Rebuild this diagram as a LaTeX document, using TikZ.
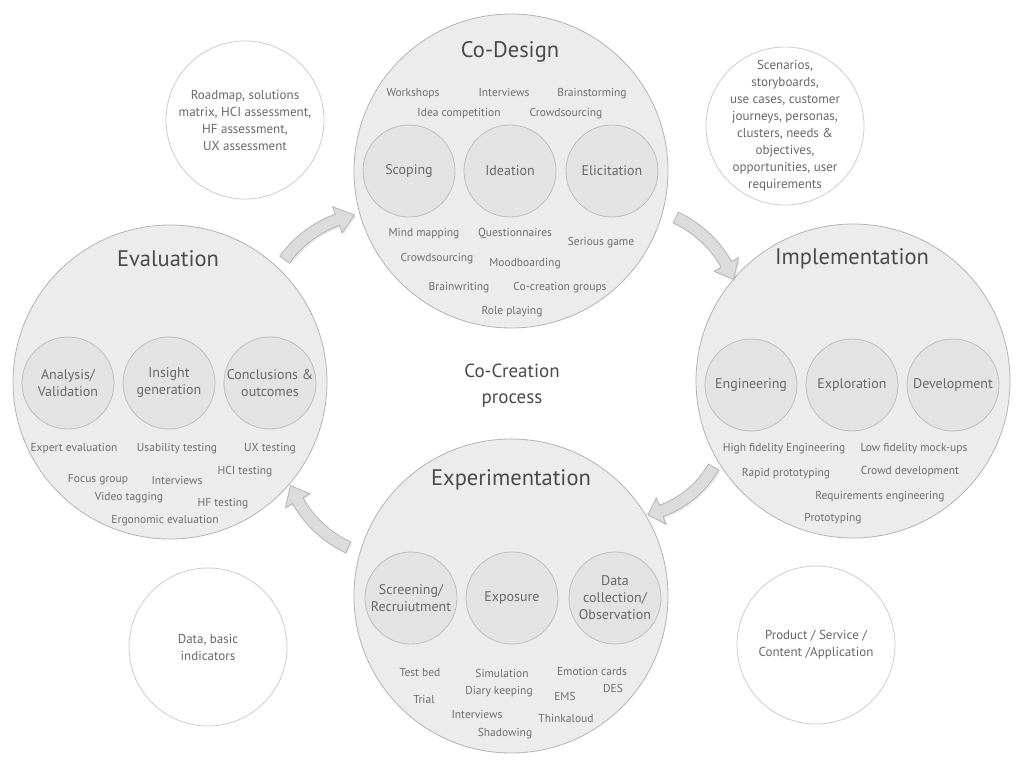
\documentclass[tikz,border=0pt]{standalone}
\usepackage{fontspec}
\setmainfont{PT Sans}
\definecolor{bigfill}{HTML}{ECECEC}
\definecolor{bigline}{HTML}{B4B4B4}
\definecolor{smfill}{HTML}{E3E3E3}
\definecolor{smline}{HTML}{BEBEBE}
\definecolor{cline}{HTML}{CDCDCD}
\definecolor{ttlc}{HTML}{4A4A4A}
\definecolor{lblc}{HTML}{6E6E6E}
\definecolor{smlc}{HTML}{686868}
\definecolor{arrfill}{HTML}{DCDCDC}
\definecolor{arrline}{HTML}{B5B5B5}
\newcommand\arrowpath[6]{%
  plot[domain=#4:#5, samples=25] ({#1+(#3+6)*cos(\x)},{#2+(#3+6)*sin(\x)})
  -- ({#1+(#3+14)*cos(#5)},{#2+(#3+14)*sin(#5)})
  -- ({#1+#3*cos(#6)},{#2+#3*sin(#6)})
  -- ({#1+(#3-14)*cos(#5)},{#2+(#3-14)*sin(#5)})
  -- plot[domain=#5:#4, samples=25] ({#1+(#3-6)*cos(\x)},{#2+(#3-6)*sin(\x)})
  -- cycle}
\newcommand\fatarrow[6]{%
  \fill[black, opacity=0.08, shift={(1.5pt,-1.5pt)}] \arrowpath{#1}{#2}{#3}{#4}{#5}{#6};
  \filldraw[fill=arrfill, draw=arrline, line width=0.8pt, line join=miter] \arrowpath{#1}{#2}{#3}{#4}{#5}{#6};}
\tikzset{
  bigc/.style={circle, draw=bigline, fill=bigfill, line width=0.8pt, minimum size=314pt, inner sep=0pt},
  smc/.style={circle, draw=smline, fill=smfill, line width=0.8pt, minimum size=92pt, inner sep=0pt},
  cornc/.style={circle, draw=cline, fill=white, line width=0.8pt, minimum size=158pt, inner sep=0pt},
  ttl/.style={text=ttlc, font=\fontsize{22.5}{26}\selectfont, inner sep=0pt},
  smt/.style={text=smlc, font=\fontsize{14}{17}\selectfont, align=center, inner sep=0pt},
  lbl/.style={text=lblc, font=\fontsize{11.5}{13}\selectfont, inner sep=0pt},
  ctext/.style={text=smlc, font=\fontsize{13}{17}\selectfont, align=center, inner sep=0pt},
  midt/.style={text=ttlc, font=\fontsize{19}{26}\selectfont, align=center, inner sep=0pt}
}
\begin{document}
\begin{tikzpicture}[x=1pt,y=-1pt]
\useasboundingbox (0,0) rectangle (1024,767);
\fill[white] (0,0) rectangle (1024,767);

% corner circles
\node[cornc] (tl) at (245,120) {};
\node[ctext] (tlt) at (tl) {Roadmap, solutions\\matrix, HCI assessment,\\HF assessment,\\UX assessment};
\node[cornc] (tr) at (785,126) {};
\node[ctext] (trt) at (tr) {Scenarios,\\storyboards,\\use cases, customer\\journeys, personas,\\clusters, needs \&\\objectives,\\opportunities, user\\requirements};
\node[cornc] (bl) at (208,647) {};
\node[ctext] (blt) at (bl) {Data, basic\\indicators};
\node[cornc] (br) at (816,645) {};
\node[ctext] (brt) at (br) {Product / Service /\\Content /Application};

% big circles
\node[bigc] (cod) at (511,171) {};
\node[bigc] (eva) at (170,382) {};
\node[bigc] (imp) at (853,381) {};
\node[bigc] (exp) at (511,596) {};

% arrows
\fatarrow{376}{326}{113}{-144}{-110}{-101}
\fatarrow{628}{320}{113}{-65}{-29.5}{-21}
\fatarrow{627}{417}{100}{30}{70}{78}
\fatarrow{396}{445}{113}{115}{150.5}{159}

% titles
\node[ttl] (codt) at (510,52) {Co-Design};
\node[ttl] (evat) at (168,259) {Evaluation};
\node[ttl] (impt) at (852,259) {Implementation};
\node[ttl] (expt) at (511,480) {Experimentation};
\node[midt] (mid) at (512,386) {Co-Creation\\process};

% Co-Design
\node[smc] (s1) at (409,171) {}; \node[smt] at (s1) {Scoping};
\node[smc] (s2) at (510,171) {}; \node[smt] at (s2) {Ideation};
\node[smc] (s3) at (612,171) {}; \node[smt] at (s3) {Elicitation};
\node[lbl] at (413,94) {Workshops};
\node[lbl] at (504,93) {Interviews};
\node[lbl] at (592,94) {Brainstorming};
\node[lbl] at (459,114) {Idea competition};
\node[lbl] at (566,114) {Crowdsourcing};
\node[lbl] at (424,234) {Mind mapping};
\node[lbl] at (515,233) {Questionnaires};
\node[lbl] at (601,243) {Serious game};
\node[lbl] at (437,259) {Crowdsourcing};
\node[lbl] at (525,264) {Moodboarding};
\node[lbl] at (459,288) {Brainwriting};
\node[lbl] at (560,288) {Co-creation groups};
\node[lbl] at (512,312) {Role playing};

% Evaluation
\node[smc] (e1) at (68,383) {}; \node[smt] at (e1) {Analysis/\\Validation};
\node[smc] (e2) at (169,383) {}; \node[smt] at (e2) {Insight\\generation};
\node[smc] (e3) at (270,383) {}; \node[smt] at (e3) {Conclusions \&\\outcomes};
\node[lbl] at (74,449) {Expert evaluation};
\node[lbl] at (177,449) {Usability testing};
\node[lbl] at (270,449) {UX testing};
\node[lbl] at (245,472) {HCI testing};
\node[lbl] at (98,480) {Focus group};
\node[lbl] at (177,480) {Interviews};
\node[lbl] at (129,498) {Video tagging};
\node[lbl] at (223,504) {HF testing};
\node[lbl] at (165,521) {Ergonomic evaluation};

% Implementation
\node[smc] (i1) at (751,385) {}; \node[smt] at (i1) {Engineering};
\node[smc] (i2) at (852,385) {}; \node[smt] at (i2) {Exploration};
\node[smc] (i3) at (953,385) {}; \node[smt] at (i3) {Development};
\node[lbl] at (784,449) {High fidelity Engineering};
\node[lbl] at (914,449) {Low fidelity mock-ups};
\node[lbl] at (786,474) {Rapid prototyping};
\node[lbl] at (910,472) {Crowd development};
\node[lbl] at (880,497) {Requirements engineering};
\node[lbl] at (833,519) {Prototyping};

% Experimentation
\node[smc] (x1) at (411,598) {}; \node[smt] at (x1) {Screening/\\Recruiutment};
\node[smc] (x2) at (512,598) {}; \node[smt] at (x2) {Exposure};
\node[smc] (x3) at (615,598) {}; \node[smt] at (x3) {Data\\collection/\\Observation};
\node[lbl] at (420,673) {Test bed};
\node[lbl] at (502,673) {Simulation};
\node[lbl] at (592,671) {Emotion cards};
\node[lbl] at (499,692) {Diary keeping};
\node[lbl] at (565,696) {EMS};
\node[lbl] at (613,688) {DES};
\node[lbl] at (424,699) {Trial};
\node[lbl] at (477,714) {Interviews};
\node[lbl] at (566,718) {Thinkaloud};
\node[lbl] at (505,734) {Shadowing};
\end{tikzpicture}
\end{document}
